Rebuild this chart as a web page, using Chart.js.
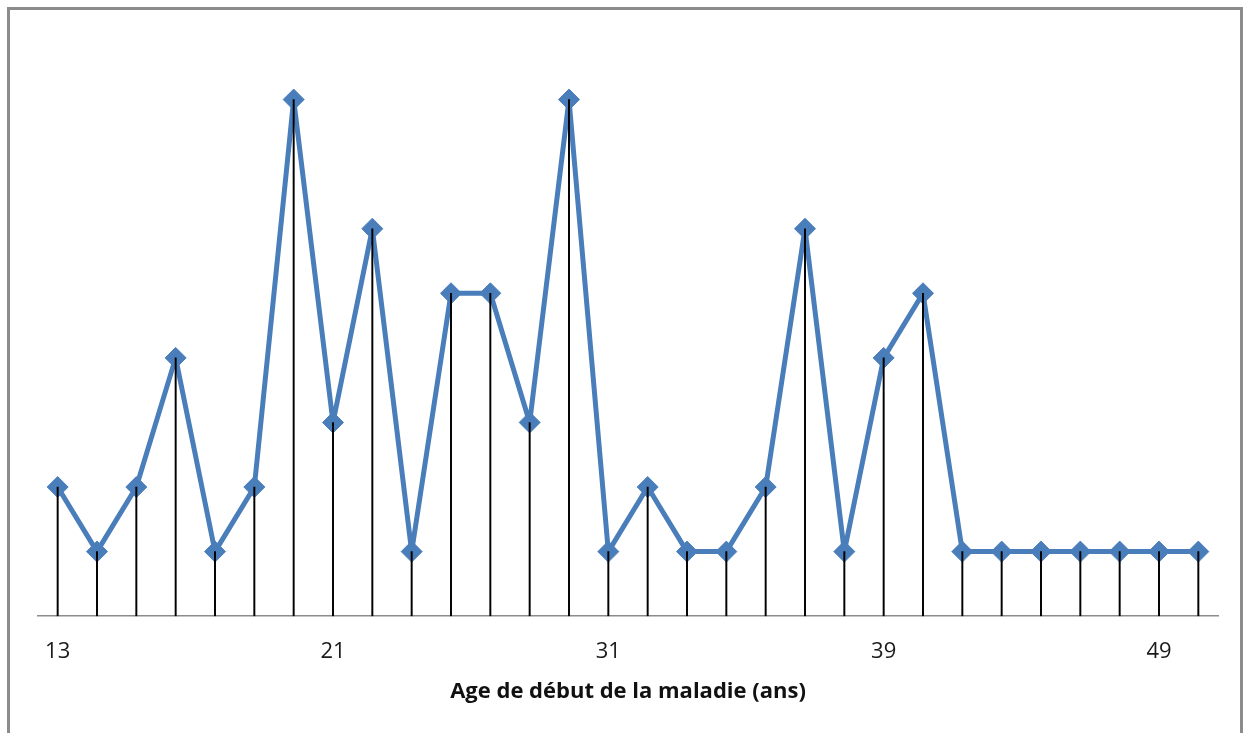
<!DOCTYPE html>
<html>
<head>
<meta charset="utf-8">
<script src="https://cdn.jsdelivr.net/npm/chart.js@4"></script>
<style>
  html, body { margin: 0; padding: 0; background: #fff; overflow: hidden; }
  #cadre { position: absolute; left: 7px; top: 7px; width: 1236px; height: 740px; border: 3px solid #8c8c8c; box-sizing: border-box; }
  #grafico { position: absolute; left: 0; top: 0; }
</style>
</head>
<body>
<div id="cadre"></div>
<canvas id="grafico" width="1248" height="733"></canvas>
<script>
// ages (categories) et nombre de cas
const ages = [13, 14, 15, 16, 17, 18, 19, 21, 22, 23, 24, 25, 26, 28, 31, 32, 33, 34, 35, 36, 37, 39, 40, 41, 42, 43, 45, 47, 49, 52];
const cas = [2, 1, 2, 4, 1, 2, 8, 3, 6, 1, 5, 5, 3, 8, 1, 2, 1, 1, 2, 6, 1, 4, 5, 1, 1, 1, 1, 1, 1, 1];
const intervalleEtiquettes = 7;
const titreAxe = 'Age de début de la maladie (ans)';

document.addEventListener('DOMContentLoaded', () => {
  const ctx = document.getElementById('grafico').getContext('2d');
  const bleu = '#4a7ebb';

  new Chart(ctx, {
    data: {
      labels: ages,
      datasets: [
        {
          type: 'line',
          data: cas,
          borderColor: bleu,
          backgroundColor: bleu,
          borderWidth: 5,
          borderJoinStyle: 'round',
          pointStyle: 'rectRot',
          pointRadius: 10.5,
          pointBorderWidth: 1,
          pointBackgroundColor: bleu,
          pointBorderColor: bleu,
          tension: 0,
          order: 2
        },
        {
          // lignes de rappel vers l'axe
          type: 'bar',
          data: cas,
          backgroundColor: '#000',
          barThickness: 1.3,
          order: 1
        }
      ]
    },
    options: {
      responsive: false,
      animation: false,
      layout: { padding: { left: 38, right: 30, top: 35, bottom: 28 } },
      plugins: { legend: { display: false }, tooltip: { enabled: false } },
      scales: {
        x: {
          offset: true,
          grid: { display: false, drawTicks: false },
          border: { display: true, color: '#8c8c8c', width: 1.5 },
          ticks: {
            autoSkip: false,
            maxRotation: 0,
            padding: 22,
            color: '#1a1a1a',
            font: { family: 'Open Sans', size: 22 },
            callback: function (v, i) { return i % intervalleEtiquettes === 0 ? this.getLabelForValue(v) : ''; }
          },
          title: {
            display: true,
            text: titreAxe,
            color: '#111',
            padding: { top: -8, bottom: 0 },
            font: { family: 'Open Sans', size: 22, weight: 'bold' }
          }
        },
        y: { display: false, min: 0, max: 9 }
      }
    }
  });
});
</script>
</body>
</html>
